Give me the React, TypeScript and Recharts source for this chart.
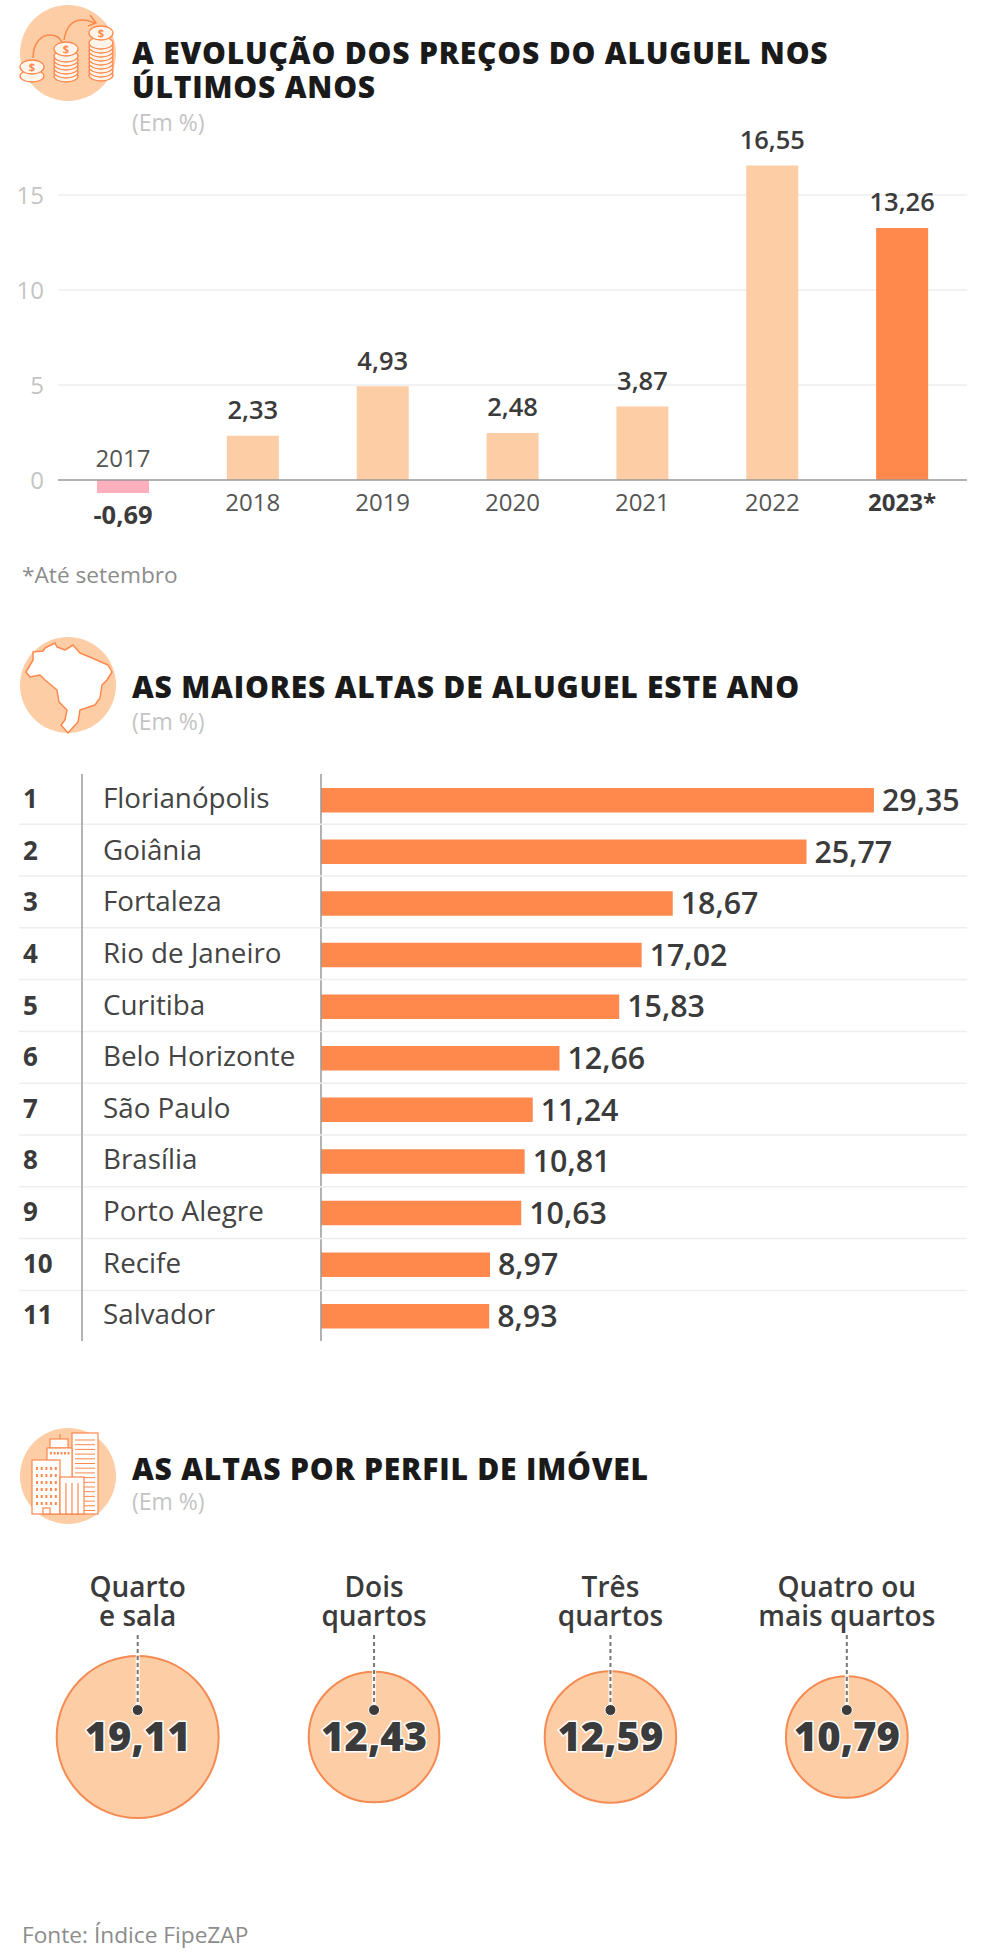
import React from 'react';
import {
  Bar, BarChart, CartesianGrid, Cell, LabelList, ReferenceLine, Scatter, ScatterChart,
  XAxis, YAxis, ZAxis,
} from 'recharts';

const years = ['2017', '2018', '2019', '2020', '2021', '2022', '2023*'];
const yearValues = [-0.69, 2.33, 4.93, 2.48, 3.87, 16.55, 13.26];
const yearColors = ['#FFB0BC', '#FDCDA6', '#FDCDA6', '#FDCDA6', '#FDCDA6', '#FDCDA6', '#FF884C'];
const yTicks = [0, 5, 10, 15];

const cities = [
  'Florianópolis', 'Goiânia', 'Fortaleza', 'Rio de Janeiro', 'Curitiba', 'Belo Horizonte',
  'São Paulo', 'Brasília', 'Porto Alegre', 'Recife', 'Salvador',
];
const cityValues = [29.35, 25.77, 18.67, 17.02, 15.83, 12.66, 11.24, 10.81, 10.63, 8.97, 8.93];

const profileLines = [['Quarto', 'e sala'], ['Dois', 'quartos'], ['Três', 'quartos'], ['Quatro ou', 'mais quartos']];
const profileValues = [19.11, 12.43, 12.59, 10.79];

const yearData = years.map((year, i) => ({ year, value: yearValues[i] }));
const cityData = cities.map((city, i) => ({ city, value: cityValues[i] }));
const profileData = profileLines.map((lines, i) => ({ name: lines.join(' '), lines, value: profileValues[i], row: 0 }));

const FONT = '"Open Sans", sans-serif';
const DARK = '#3B3B3B';
const ORANGE = '#FF884C';
const PEACH = '#FDCDA6';
const ROW_HEIGHT = 51.6;
const UNIT = 19; // px per percentage point in the first chart

const comma = (v: number) => v.toFixed(2).replace('.', ',');

const YearTick = ({ x, y, payload }: any) => {
  const negative = payload.value === '2017';
  const zero = y - 3 * UNIT;
  return (
    <text
      x={x}
      y={negative ? zero - 22 : zero + 22}
      dy="0.36em"
      textAnchor="middle"
      fontFamily={FONT}
      fontSize={24}
      fontWeight={payload.value === '2023*' ? 700 : 400}
      fill={payload.value === '2023*' ? DARK : '#555'}
    >
      {payload.value}
    </text>
  );
};

const YearLabel = ({ x, y, width, height, value }: any) => {
  const top = Math.min(y, y + height);
  const bottom = Math.max(y, y + height);
  const negative = value < 0;
  return (
    <text
      x={x + width / 2}
      y={negative ? bottom + 22 : top - 26}
      dy="0.36em"
      textAnchor="middle"
      fontFamily={FONT}
      fontSize={25.5}
      fontWeight={negative ? 700 : 600}
      fill={DARK}
    >
      {comma(value)}
    </text>
  );
};

const CityTick = ({ y, payload, index }: any) => (
  <g fontFamily={FONT}>
    {index < cities.length - 1 && (
      <line x1={19} x2={967} y1={y + 24.4 + index * 0.2} y2={y + 24.4 + index * 0.2} stroke="#EEEEEE" strokeWidth={1.5} />
    )}
    <line x1={82} x2={82} y1={y - ROW_HEIGHT / 2} y2={y + ROW_HEIGHT / 2} stroke="#999" strokeWidth={1.5} />
    <text x={23} y={y + 8.5} fontSize={26} fontWeight={700} fill={DARK}>{index + 1}</text>
    <text x={103} y={y + 8.5} fontSize={27.8} fill="#444">{payload.value}</text>
  </g>
);

const ProfileTick = ({ x, y, index }: any) => (
  <text fontFamily={FONT} fontSize={28} fontWeight={600} fill={DARK} textAnchor="middle">
    <tspan x={x} y={y - 33}>{profileLines[index][0]}</tspan>
    <tspan x={x} y={y - 4.5}>{profileLines[index][1]}</tspan>
  </text>
);

const Bubble = ({ cx, cy, width, payload }: any) => (
  <g>
    <circle cx={cx} cy={cy} r={width / 2} fill={PEACH} stroke="#F58B52" strokeWidth={2} />
    <line x1={cx} x2={cx} y1={cy - 102} y2={cy - 27} stroke="#fff" strokeWidth={4} opacity={0.8} />
    <line x1={cx} x2={cx} y1={cy - 102} y2={cy - 27} stroke="#777" strokeWidth={2} strokeDasharray="4 3" />
    <circle cx={cx} cy={cy - 27} r={5.5} fill={DARK} stroke="#fff" strokeWidth={1} />
    <text
      x={cx}
      y={cy}
      dy="0.36em"
      textAnchor="middle"
      fontFamily={FONT}
      fontSize={40}
      fontWeight={800}
      fill={DARK}
      stroke="#fff"
      strokeWidth={3}
      paintOrder="stroke"
    >
      {comma(payload.value)}
    </text>
  </g>
);

const CoinStack = ({ cx, top, bottom }: { cx: number; top: number; bottom: number }) => {
  const rims = [];
  for (let y = bottom; y > top + 6; y -= 4) rims.push(y);
  return (
    <g fill="#FFF4EA" stroke={ORANGE} strokeWidth={1.3}>
      {rims.map((y) => <ellipse key={y} cx={cx} cy={y} rx={12} ry={6} />)}
      <ellipse cx={cx} cy={top} rx={12} ry={7} />
      <text x={cx} y={top + 4} textAnchor="middle" fontFamily={FONT} fontSize={11} fontWeight={700} fill={ORANGE} stroke="none">$</text>
    </g>
  );
};

const Icons = () => {
  const windows = [];
  for (let r = 0; r < 6; r++) {
    for (let c = 0; c < 5; c++) {
      windows.push(<rect key={`${r}-${c}`} x={36 + c * 4.7} y={1467 + r * 7} width={2} height={3} fill={ORANGE} stroke="none" />);
    }
  }
  const topWindows = [];
  for (let c = 0; c < 6; c++) {
    topWindows.push(<rect key={c} x={50 + c * 3.5} y={1452} width={2} height={2.5} fill={ORANGE} stroke="none" />);
  }
  const floors = [];
  for (let r = 0; r < 16; r++) floors.push(<line key={r} x1={75} x2={95} y1={1440 + r * 4.7} y2={1440 + r * 4.7} stroke={ORANGE} strokeWidth={1} />);
  return (
    <g>
      <circle cx={68} cy={53} r={48} fill={PEACH} />
      <path d="M33 58 C33 42 42 35 50 35 C56 35 60 38 62 42 M64 40 C66 28 72 20 82 20 C88 20 92 22 95 23 M90 15 L96 23 L88 26" fill="none" stroke={ORANGE} strokeWidth={1.5} />
      <CoinStack cx={32} top={67} bottom={76} />
      <CoinStack cx={66} top={49} bottom={76} />
      <CoinStack cx={101} top={33} bottom={75} />

      <circle cx={68} cy={685} r={48} fill={PEACH} />
      <path
        d="M33 652 L43 651 L45 648 L55 643 L57 647 L65 650 L73 645 L80 653 L92 658 L108 665 L112 672 L107 680 L102 685 L100 698 L95 705 L80 710 L78 722 L68 733 L61 725 L65 720 L67 710 L59 702 L57 690 L45 680 L40 675 L30 677 L26 672 L33 660 Z"
        fill="#fff"
        stroke={ORANGE}
        strokeWidth={1.5}
        strokeLinejoin="round"
      />

      <circle cx={68} cy={1476} r={48} fill={PEACH} />
      <g fill="#fff" stroke={ORANGE} strokeWidth={1.2}>
        <rect x={72} y={1433} width={26} height={81} />
        {floors}
        <rect x={50} y={1439} width={18} height={9} />
        <line x1={60} x2={60} y1={1434} y2={1439} />
        <rect x={47} y={1448} width={25} height={66} />
        {topWindows}
        <rect x={32} y={1460} width={28} height={54} />
        {windows}
        <rect x={60} y={1477} width={24} height={37} />
        <line x1={66} x2={66} y1={1483} y2={1514} />
        <line x1={72} x2={72} y1={1483} y2={1514} />
        <line x1={78} x2={78} y1={1483} y2={1514} />
        <rect x={43} y={1508} width={7} height={6} />
      </g>
    </g>
  );
};

const Heading = ({ lines, y, em }: { lines: string[]; y: number; em: number }) => (
  <g fontFamily={FONT}>
    {lines.map((line, i) => (
      <text key={line} x={132} y={y + i * 33.5} dy="0.36em" fontSize={30} fontWeight={800} fill="#1A1A1A" letterSpacing={0.8}>{line}</text>
    ))}
    <text x={132} y={em} dy="0.36em" fontSize={23} fill="#C4C4C4">(Em %)</text>
  </g>
);

const Overlay = () => (
  <svg width={984} height={1954} style={{ position: 'absolute', left: 0, top: 0 }}>
    <Icons />
    <Heading lines={['A EVOLUÇÃO DOS PREÇOS DO ALUGUEL NOS', 'ÚLTIMOS ANOS']} y={53.5} em={123} />
    <Heading lines={['AS MAIORES ALTAS DE ALUGUEL ESTE ANO']} y={687.5} em={721.5} />
    <Heading lines={['AS ALTAS POR PERFIL DE IMÓVEL']} y={1469} em={1502} />
    <text x={22} y={575} dy="0.36em" fontFamily={FONT} fontSize={22.7} fill="#8C8C8C">*Até setembro</text>
    <text x={22} y={1935} dy="0.36em" fontFamily={FONT} fontSize={22.7} fill="#8C8C8C">Fonte: Índice FipeZAP</text>
  </svg>
);

const placed = (top: number): React.CSSProperties => ({ position: 'absolute', left: 0, top });

const App = () => (
  <div style={{ position: 'absolute', left: 0, top: 0, width: 984, height: 1954, background: '#fff', overflow: 'hidden' }}>
    <Overlay />

    <div style={placed(118)}>
      <BarChart width={984} height={439} data={yearData} margin={{ top: 20, right: 17, bottom: 0, left: 0 }} barSize={52}>
        <CartesianGrid
          vertical={false}
          stroke="#EEEEEE"
          strokeWidth={1.5}
          horizontalValues={yTicks.slice(1)}
        />
        <XAxis dataKey="year" height={20} axisLine={false} tickLine={false} tickSize={0} tickMargin={0} interval={0} tick={<YearTick />} />
        <YAxis
          width={58}
          domain={[-3, 18]}
          ticks={yTicks}
          interval={0}
          axisLine={false}
          tickLine={false}
          tickSize={0}
          tickMargin={14}
          tick={{ fontFamily: FONT, fontSize: 24, fill: '#C4C4C4' }}
        />
        <Bar dataKey="value" isAnimationActive={false}>
          {yearData.map((d, i) => <Cell key={d.year} fill={yearColors[i]} />)}
          <LabelList dataKey="value" content={<YearLabel />} />
        </Bar>
        <ReferenceLine y={0} stroke="#999" strokeWidth={1.5} />
      </BarChart>
    </div>

    <div style={placed(773.5)}>
      <BarChart width={984} height={ROW_HEIGHT * 11} layout="vertical" data={cityData} margin={{ top: 0, right: 17, bottom: 0, left: 0 }} barSize={24.5}>
        <XAxis type="number" hide domain={[0, 34.29]} />
        <YAxis
          type="category"
          dataKey="city"
          width={321}
          interval={0}
          axisLine={{ stroke: '#999', strokeWidth: 1.5 }}
          tickLine={false}
          tick={<CityTick />}
        />
        <Bar dataKey="value" fill={ORANGE} isAnimationActive={false}>
          <LabelList
            dataKey="value"
            position="right"
            offset={8}
            formatter={(v: any) => comma(v)}
            style={{ fontFamily: FONT, fontSize: 30.4, fontWeight: 650, fill: DARK }}
          />
        </Bar>
      </BarChart>
    </div>

    <div style={placed(1560)}>
      <ScatterChart width={984} height={284} margin={{ top: 0, right: 19, bottom: 0, left: 19.5 }}>
        <XAxis
          xAxisId={0}
          type="category"
          dataKey="name"
          orientation="top"
          height={70}
          interval={0}
          axisLine={false}
          tickLine={false}
          tickSize={0}
          tickMargin={0}
          allowDuplicatedCategory={false}
          tick={<ProfileTick />}
        />
        <YAxis yAxisId={0} type="number" dataKey="row" hide domain={[-1, 1]} />
        <ZAxis zAxisId={0} type="number" dataKey="value" domain={[0, 19.11]} range={[0, 20612]} />
        <Scatter data={profileData} shape={<Bubble />} isAnimationActive={false} />
      </ScatterChart>
    </div>
  </div>
);

export default App;
